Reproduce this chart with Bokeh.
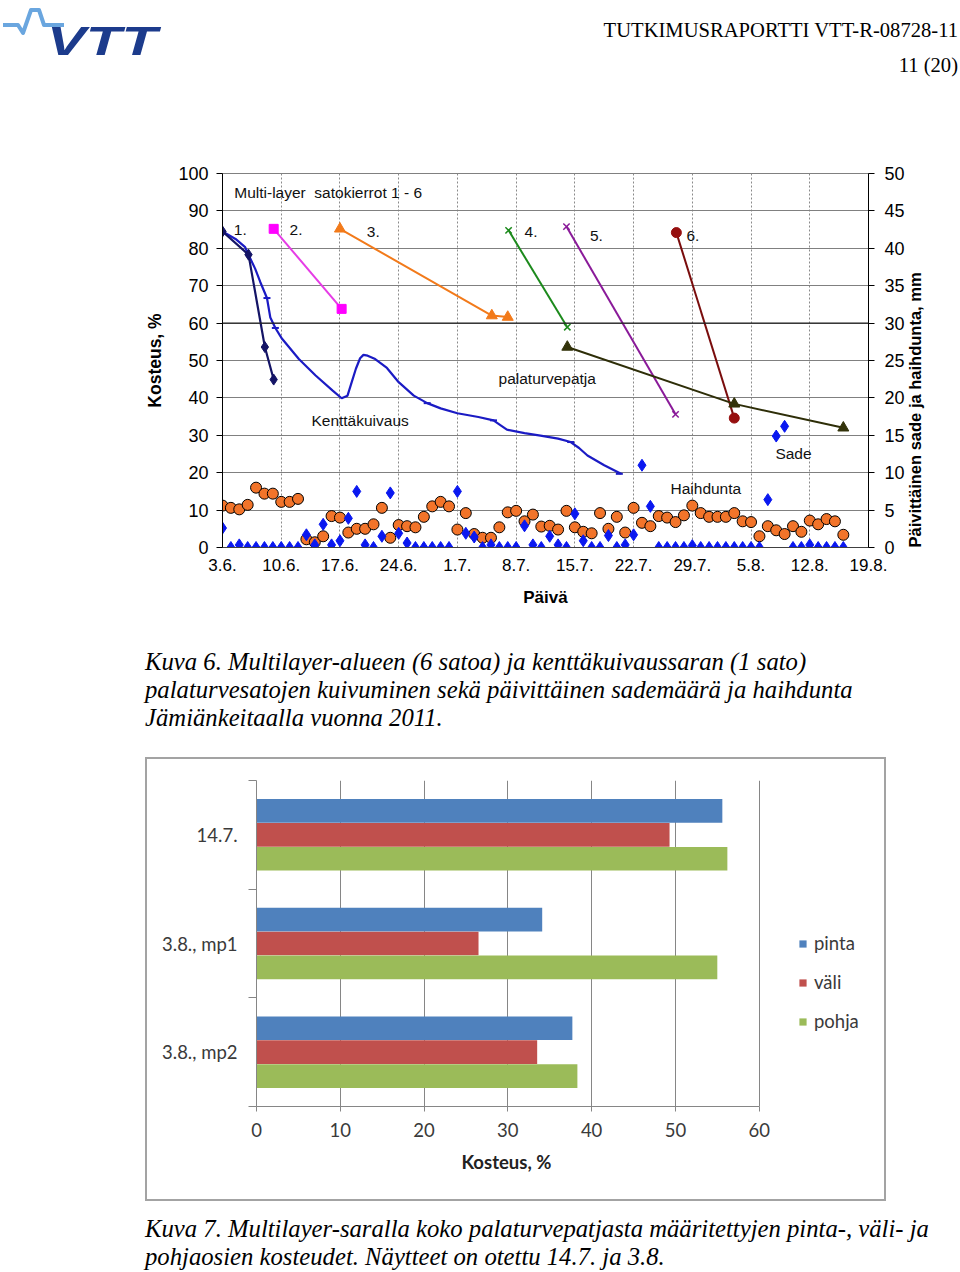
import math
from bokeh.plotting import figure
from bokeh.models import Range1d, LinearAxis, FixedTicker, Label, Span, Div, Legend, LegendItem
from bokeh.embed import file_html
from bokeh.resources import INLINE

# ---------------- Kuva 6 data ----------------
x_tick_days = [0, 7, 14, 21, 28, 35, 42, 49, 56, 63, 70, 77]
x_tick_labels = ["3.6.", "10.6.", "17.6.", "24.6.", "1.7.", "8.7.", "15.7.",
                 "22.7.", "29.7.", "5.8.", "12.8.", "19.8."]
y_left_ticks = [0, 10, 20, 30, 40, 50, 60, 70, 80, 90, 100]
y_right_ticks = [0, 5, 10, 15, 20, 25, 30, 35, 40, 45, 50]

# Kenttäkuivaus (field drying), moisture %
field_day = [0, 1.55, 2.7, 3.1, 3.9, 4.5, 5.3, 5.7, 6.3, 7.1, 9.1, 11.1, 13.1, 14.2,
             14.9, 15.3, 15.9, 16.4, 16.8, 17.3, 18.2, 19.6, 21.0, 22.8, 24.4, 26.0,
             28.0, 30.5, 32.3, 33.2, 33.9, 36.0, 37.9, 40.0, 41.5, 42.5, 43.5, 45.5, 47.5]
field_moist = [84.5, 82.5, 80.3, 78.3, 74.5, 71.0, 66.7, 61.5, 58.7, 55.8, 50.4, 46.0,
               42.0, 39.9, 40.6, 43.5, 47.8, 50.6, 51.5, 51.3, 50.4, 48.0, 44.2, 40.6,
               38.6, 37.2, 35.9, 34.9, 34.0, 32.6, 31.5, 30.6, 29.9, 29.1, 28.2, 26.6,
               24.6, 22.0, 19.7]
field_meas_day = [5.3, 6.3, 24.4, 32.3, 41.5, 47.3]
field_meas_moist = [66.7, 58.7, 38.6, 34.0, 28.2, 19.7]

# Multi-layer harvest cycles 1-6, moisture %
h1_day = [0, 3.1, 5.05, 6.1]
h1_moist = [84.5, 78.3, 53.6, 44.9]
h2_day = [6.1, 14.2]
h2_moist = [85.2, 63.8]
h3_day = [14.0, 32.1, 34.0]
h3_moist = [85.2, 62.0, 61.6]
h4_day = [34.1, 41.1]
h4_moist = [84.8, 58.9]
h5_day = [41.0, 54.0]
h5_moist = [85.8, 35.6]
h6_day = [54.1, 61.0]
h6_moist = [84.2, 34.6]
pala_day = [41.1, 61.0, 74.0]
pala_moist = [53.6, 38.4, 32.0]

# Daily rain (Sade) and evaporation (Haihdunta), mm, from 3.6.
weather_day = list(range(75))
sade = [2.6, 0, 0.35, 0, 0, 0, 0, 0, 0, 0, 1.7, 0.35, 3.1, 0.35, 0.9, 3.9, 7.5, 0.35,
        0, 1.5, 7.3, 1.9, 0.6, 0, 0, 0, 0, 0, 7.5, 1.9, 1.4, 0, 0.35, 0, 0, 0, 2.9,
        0.35, 0, 1.5, 0.35, 0, 4.5, 0.9, 0, 0, 1.6, 0, 0.35, 1.7, 11.0, 5.5, 0, 0,
        0, 0, 0.25, 0, 0, 0, 0, 0, 0, 0, 0, 6.4, 14.9, 16.2, 0, 0, 0.35, 0, 0, 0, 0]
haihdunta = [5.6, 5.3, 5.1, 5.7, 8.0, 7.2, 7.2, 6.1, 6.1, 6.5, 1.1, 0.7, 1.5, 4.2, 4.0,
             2.0, 2.5, 2.5, 3.1, 5.3, 1.3, 3.0, 2.85, 2.7, 4.1, 5.5, 6.1, 5.5, 2.4, 4.6,
             1.8, 1.3, 1.3, 2.7, 4.7, 4.9, 3.5, 4.4, 2.8, 2.9, 2.4, 4.9, 2.7, 2.1, 1.9,
             4.6, 2.5, 4.1, 2.0, 5.3, 3.3, 2.85, 4.2, 4.0, 3.4, 4.3, 5.6, 4.6, 4.1, 4.1,
             4.1, 4.6, 3.5, 3.4, 1.5, 2.85, 2.3, 1.8, 2.85, 2.1, 3.6, 3.1, 3.8, 3.5, 1.7]

# ---------------- Kuva 7 data ----------------
bar_categories = ["14.7.", "3.8., mp1", "3.8., mp2"]
bar_series = ["pinta", "väli", "pohja"]
pinta = [55.6, 34.1, 37.7]
vali = [49.3, 26.5, 33.5]
pohja = [56.2, 55.0, 38.3]
x2_ticks = [0, 10, 20, 30, 40, 50, 60]

SANS = "Liberation Sans"
SERIF = "Liberation Serif"

# ---------------- header ----------------
header_html = f"""
<div style="position:relative;width:958px;height:130px;">
  <svg style="position:absolute;left:0;top:0;" width="170" height="70" viewBox="0 0 170 70">
    <polyline points="3,25 18,25 23,33 31,10 39,10 44,25 64,25" fill="none"
              stroke="#6aa6df" stroke-width="4" stroke-linejoin="round"/>
    <text x="47" y="55" font-family="{SANS}" font-weight="bold" font-style="italic"
          font-size="41" fill="#1c3b8c" textLength="110" lengthAdjust="spacingAndGlyphs">VTT</text>
  </svg>
  <div style="position:absolute;right:0;top:18px;font-family:'{SERIF}';font-size:20.6px;line-height:24px;color:#000;white-space:nowrap;">TUTKIMUSRAPORTTI VTT-R-08728-11</div>
  <div style="position:absolute;right:0;top:53px;font-family:'{SERIF}';font-size:20.6px;line-height:24px;color:#000;white-space:nowrap;">11 (20)</div>
</div>
"""
header = Div(text=header_html, width=958, height=130, margin=0)

# ---------------- Kuva 6 figure ----------------
p1 = figure(width=958, height=497, x_range=Range1d(0, 77), y_range=Range1d(0, 100),
            output_backend="svg", toolbar_location=None, margin=0,
            min_border_left=222, min_border_right=90, min_border_top=43, min_border_bottom=80)
p1.extra_y_ranges = {"mm": Range1d(0, 50)}
p1.outline_line_color = "#808080"
p1.background_fill_color = "white"

xa = p1.xaxis[0]
xa.ticker = FixedTicker(ticks=x_tick_days)
xa.major_label_overrides = {d: l for d, l in zip(x_tick_days, x_tick_labels)}
xa.axis_label = "Päivä"
xa.axis_line_color = "#404040"
xa.major_tick_out = 0
xa.major_tick_in = 0
xa.minor_tick_out = 0
xa.minor_tick_in = 0
xa.major_label_standoff = 11
xa.axis_label_standoff = 14

ya = p1.yaxis[0]
ya.ticker = FixedTicker(ticks=y_left_ticks)
ya.axis_label = "Kosteus, %"
ya.axis_line_color = "black"
ya.major_tick_out = 6
ya.major_tick_in = 0
ya.minor_tick_out = 0
ya.minor_tick_in = 0
ya.major_label_standoff = 8
ya.axis_label_standoff = 10

yr = LinearAxis(y_range_name="mm", ticker=FixedTicker(ticks=y_right_ticks),
                axis_label="Päivittäinen sade ja haihdunta, mm")
yr.axis_line_color = "black"
yr.major_tick_out = 6
yr.major_tick_in = 0
yr.minor_tick_out = 0
yr.minor_tick_in = 0
yr.major_label_standoff = 10
yr.axis_label_standoff = 7
yr.axis_label_orientation = math.pi / 2
for cand in ("start", "left"):
    try:
        yr.axis_label_align = cand
        break
    except Exception:
        pass
p1.add_layout(yr, "right")

for ax, fs in ((xa, "17px"), (ya, "18px"), (yr, "18px")):
    ax.major_label_text_font = SANS
    ax.major_label_text_font_size = fs
    ax.major_label_text_color = "black"
    ax.axis_label_text_font = SANS
    ax.axis_label_text_font_style = "bold"
    ax.axis_label_text_color = "black"
    ax.major_tick_line_color = "black"
ya.axis_label_text_font_size = "17.5px"
xa.axis_label_text_font_size = "17px"
yr.axis_label_text_font_size = "16.5px"

p1.ygrid.grid_line_color = "#808080"
p1.ygrid.grid_line_width = 1
p1.xgrid.grid_line_color = "#8a8a8a"
p1.xgrid.grid_line_dash = "2 2"
p1.xgrid.grid_line_width = 1
p1.add_layout(Span(location=60, dimension="width", line_color="#202020", line_width=1.2))

# daily weather
p1.scatter(weather_day, haihdunta, y_range_name="mm", marker="circle", size=11,
           fill_color="#f2742a", line_color="black", line_width=1)
p1.scatter(weather_day, sade, y_range_name="mm", marker="diamond", size=12,
           fill_color="#0a18f0", line_color="#0a18f0")

# field drying curve
p1.line(field_day, field_moist, line_color="#1b1bc4", line_width=2.2)
p1.scatter(field_meas_day, field_meas_moist, marker="dash", size=7,
           line_color="#1b1bc4", line_width=2)

# harvest cycles
p1.line(h1_day, h1_moist, line_color="#141466", line_width=2.2)
p1.scatter(h1_day, h1_moist, marker="diamond", size=11, color="#141466")
p1.line(h2_day, h2_moist, line_color="#e63ce6", line_width=2)
p1.scatter(h2_day, h2_moist, marker="square", size=9, color="#ff00ff")
p1.line(h3_day, h3_moist, line_color="#f27a1a", line_width=2)
p1.scatter(h3_day, h3_moist, marker="triangle", size=11, color="#f27a1a")
p1.line(h4_day, h4_moist, line_color="#1c8a1c", line_width=2)
p1.scatter(h4_day, h4_moist, marker="x", size=9, line_color="#1c8a1c", line_width=1.5)
p1.line(h5_day, h5_moist, line_color="#8a1a99", line_width=2)
p1.scatter(h5_day, h5_moist, marker="x", size=9, line_color="#8a1a99", line_width=1.5)
p1.line(h6_day, h6_moist, line_color="#7a0d0d", line_width=2)
p1.scatter(h6_day, h6_moist, marker="circle", size=10, color="#960f0f")
p1.line(pala_day, pala_moist, line_color="#2e2e08", line_width=2)
p1.scatter(pala_day, pala_moist, marker="triangle", size=11, color="#33330a")

def lab(x, y, t, size="15.5px"):
    p1.add_layout(Label(x=x, y=y, text=t, text_font=SANS, text_font_size=size,
                        text_baseline="middle", text_align="left", text_color="#111111"))

lab(1.4, 94.9, "Multi-layer\u00a0 satokierrot 1 - 6")
lab(1.35, 85.0, "1.")
lab(8.0, 85.0, "2.")
lab(17.2, 84.3, "3.")
lab(36.0, 84.3, "4.")
lab(43.8, 83.2, "5.")
lab(55.3, 83.2, "6.")
lab(32.9, 45.1, "palaturvepatja")
lab(10.6, 34.0, "Kenttäkuivaus")
lab(53.4, 15.7, "Haihdunta")
lab(65.9, 25.2, "Sade")

# ---------------- caption 6 ----------------
cap_style = (f"font-family:'{SERIF}';font-style:italic;font-size:24.7px;line-height:28px;"
             "color:#000;white-space:nowrap;")
cap1 = Div(text=f"<div style=\"padding:21px 0 0 145px;{cap_style}\">"
                "Kuva 6. Multilayer-alueen (6 satoa) ja kenttäkuivaussaran (1 sato)<br>"
                "palaturvesatojen kuivuminen sekä päivittäinen sademäärä ja haihdunta<br>"
                "Jämiänkeitaalla vuonna 2011.</div>",
           width=958, height=132, margin=0)

# ---------------- Kuva 7 figure ----------------
# The frame is extended to the right of 60 so that the legend can sit inside it;
# the axis line and grid stop at 60.
n = len(bar_categories)
x2_max = x2_ticks[-1]
p2 = figure(width=737, height=440, x_range=Range1d(0, 74), y_range=Range1d(0, n),
            output_backend="svg", toolbar_location=None,
            min_border_left=109, min_border_right=8, min_border_top=21, min_border_bottom=93,
            margin=(0, 0, 0, 147))
p2.styles = {"outline": "2px solid #a3a3a3"}
p2.outline_line_color = None

centers = [n - i - 0.5 for i in range(n)]
offsets = [0.22, 0.0, -0.22]
colors = ["#4F81BD", "#C0504D", "#9BBB59"]
renderers = []
for vals, off, col in zip([pinta, vali, pohja], offsets, colors):
    r = p2.hbar(y=[c + off for c in centers], right=vals, left=0, height=0.218,
                fill_color=col, line_color=None)
    renderers.append(r)

xb = p2.xaxis[0]
xb.ticker = FixedTicker(ticks=x2_ticks)
xb.bounds = (0, x2_max)
# trailing em/en spaces keep the visible title centred under the 0-60 axis
xb.axis_label = "Kosteus, %" + "\u2003" * 8 + "\u2002"
xb.axis_line_color = "#868686"
xb.major_tick_line_color = "#868686"
xb.major_tick_out = 5
xb.major_tick_in = 0
xb.minor_tick_out = 0
xb.minor_tick_in = 0
xb.major_label_standoff = 11
xb.axis_label_standoff = 11

yb = p2.yaxis[0]
yb.ticker = FixedTicker(ticks=centers, minor_ticks=[float(k) for k in range(n + 1)])
yb.major_label_overrides = {c: lbl for c, lbl in zip(centers, bar_categories)}
yb.axis_line_color = "#868686"
yb.major_tick_out = 0
yb.major_tick_in = 0
yb.minor_tick_out = 8
yb.minor_tick_in = 0
yb.minor_tick_line_color = "#868686"
yb.major_label_standoff = 11

for ax in (xb, yb):
    ax.major_label_text_font = "Lato"
    ax.major_label_text_font_size = "18.5px"
    ax.major_label_text_color = "#3a3a3a"
    ax.axis_label_text_font = "Lato"
    ax.axis_label_text_font_size = "18.5px"
    ax.axis_label_text_font_style = "bold"
    ax.axis_label_text_color = "#222222"

p2.xgrid.grid_line_color = "#868686"
p2.xgrid.grid_line_width = 1
p2.ygrid.grid_line_color = None

legend = Legend(items=[LegendItem(label=s, renderers=[r]) for s, r in zip(bar_series, renderers)],
                location=(542, 74), orientation="vertical")
legend.margin = 0
legend.glyph_width = 9
legend.glyph_height = 9
legend.label_height = 20
legend.spacing = 17
legend.padding = 5
legend.label_standoff = 7
legend.label_text_font = "Lato"
legend.label_text_font_size = "18.5px"
legend.label_text_color = "#3a3a3a"
legend.border_line_color = None
legend.background_fill_alpha = 0
p2.add_layout(legend, "center")

# ---------------- caption 7 ----------------
cap2 = Div(text=f"<div style=\"padding:16px 0 0 145px;{cap_style}\">"
                "Kuva 7. Multilayer-saralla koko palaturvepatjasta määritettyjen pinta-, väli- ja<br>"
                "pohjaosien kosteudet. Näytteet on otettu 14.7. ja 3.8.</div>",
           width=958, height=73, margin=0)

page = [header, p1, cap1, p2, cap2]
open("out.html", "w").write(file_html(page, INLINE))
